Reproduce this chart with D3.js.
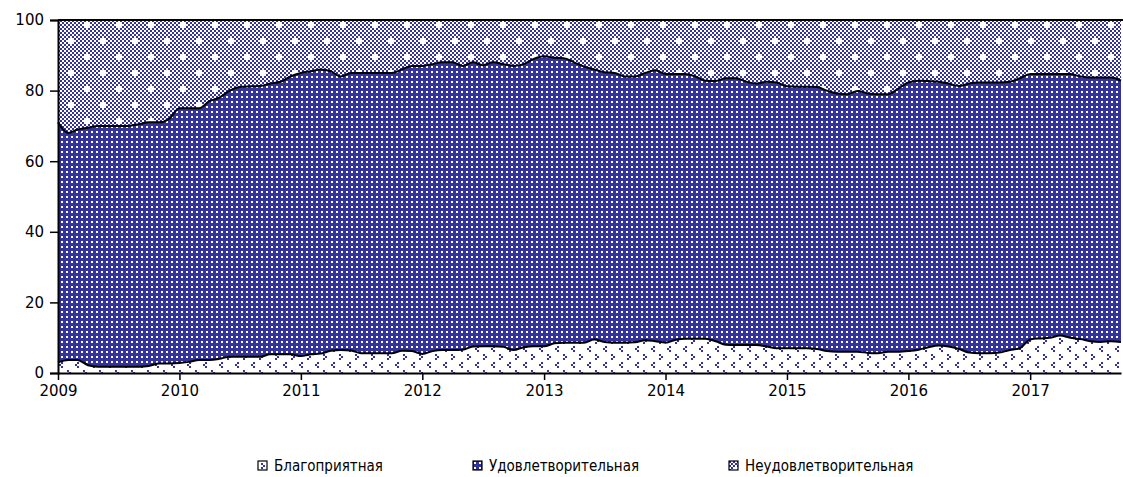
<!DOCTYPE html>
<html>
<head>
<meta charset="utf-8">
<script src="https://cdn.jsdelivr.net/npm/d3@7"></script>
<style>
body { margin: 0; background: #fff; }
svg { display: block; font-family: "DejaVu Sans", sans-serif; }
</style>
</head>
<body>
<script>
// series names (legend order)
var seriesNames = ['Благоприятная', 'Удовлетворительная', 'Неудовлетворительная'];

// monthly, Jan 2009 .. Oct 2017
var months = d3.timeMonth.range(new Date(2009, 0, 1), new Date(2017, 10, 1));

var yTicks = [0, 20, 40, 60, 80, 100];
var yearTicks = [2009, 2010, 2011, 2012, 2013, 2014, 2015, 2016, 2017];

var favourable = [
  3, 3.7, 3.7, 2.2, 1.8, 1.8, 1.8, 1.8, 1.8, 2, 2.7, 2.7,
  2.8, 3.2, 3.7, 3.7, 4, 4.6, 4.6, 4.6, 4.6, 5.3, 5.3, 5.3,
  4.8, 5.3, 5.5, 6.3, 6.5, 6.4, 5.6, 5.6, 5.6, 5.6, 6.3, 6.2,
  5.4, 6.2, 6.5, 6.5, 6.6, 7.5, 7.6, 7.6, 7.4, 6.5, 7.3, 7.6,
  7.6, 8.4, 8.6, 8.6, 8.6, 9.5, 8.8, 8.6, 8.6, 8.7, 9.3, 9,
  8.6, 9.4, 9.7, 9.7, 9.7, 9, 8, 7.9, 7.9, 7.9, 7.5, 7,
  7, 7, 7, 6.8, 6.2, 6, 6, 6, 5.7, 5.6, 6, 6,
  6.2, 6.6, 7.3, 7.8, 7.5, 6.8, 5.8, 5.6, 5.6, 5.8, 6.5, 7,
  9.5, 9.8, 10, 10.6, 10, 9.6, 9, 8.8, 9, 8.8
];
var satisfactory = [
  68, 64.3, 65.3, 67.3, 68.2, 68.2, 68.2, 68.2, 68.7, 69, 68.3, 69.3,
  72.2, 71.8, 71.3, 73.3, 74, 75.4, 76.4, 76.6, 76.7, 76.7, 77.2, 78.7,
  80.2, 80.2, 80.5, 79.2, 77.5, 78.6, 79.4, 79.4, 79.4, 79.4, 79.7, 80.8,
  81.6, 81.3, 81.5, 81.5, 80.4, 80.5, 79.6, 80.4, 80.1, 80.5, 80.2, 81.4,
  82.1, 80.9, 80.6, 79.4, 78.2, 76.5, 76.4, 76.4, 75.4, 75.3, 75.7, 76.8,
  76.1, 75.3, 75, 74.3, 73.1, 73.7, 75.5, 75.6, 74.6, 74.1, 75, 75.3,
  74.2, 74.1, 74.1, 74.2, 73.8, 73.2, 73, 73.9, 73.5, 73.4, 73, 74.5,
  76.1, 76.2, 75.4, 74.7, 74.5, 74.5, 76.2, 76.7, 76.7, 76.5, 76, 76.5,
  75.2, 74.9, 74.7, 74.1, 74.7, 74.4, 74.7, 74.9, 74.7, 74
];
var unsatisfactory = [
  29, 32, 31, 30.5, 30, 30, 30, 30, 29.5, 29, 29, 28,
  25, 25, 25, 23, 22, 20, 19, 18.8, 18.7, 18, 17.5, 16,
  15, 14.5, 14, 14.5, 16, 15, 15, 15, 15, 15, 14, 13,
  13, 12.5, 12, 12, 13, 12, 12.8, 12, 12.5, 13, 12.5, 11,
  10.3, 10.7, 10.8, 12, 13.2, 14, 14.8, 15, 16, 16, 15, 14.2,
  15.3, 15.3, 15.3, 16, 17.2, 17.3, 16.5, 16.5, 17.5, 18, 17.5, 17.7,
  18.8, 18.9, 18.9, 19, 20, 20.8, 21, 20.1, 20.8, 21, 21, 19.5,
  17.7, 17.2, 17.3, 17.5, 18, 18.7, 18, 17.7, 17.7, 17.7, 17.5, 16.5,
  15.3, 15.3, 15.3, 15.3, 15.3, 16, 16.3, 16.3, 16.3, 17.2
];

var W = 1123, H = 477;
var plotL = 58, plotR = 1121, plotT = 20, plotB = 373;
var navy = '#333399';

var svg = d3.select('body').append('svg').attr('width', W).attr('height', H);
var defs = svg.append('defs');

// pattern: favourable - white with small chevrons
var p1 = defs.append('pattern').attr('id', 'pFav').attr('patternUnits', 'userSpaceOnUse')
  .attr('width', 16).attr('height', 16);
p1.append('rect').attr('width', 16).attr('height', 16).attr('fill', '#fff');
[[3, 2], [5, 4], [3, 6], [13, 10], [11, 12], [13, 14]].forEach(function(p) {
  p1.append('rect').attr('x', p[0]).attr('y', p[1]).attr('width', 2).attr('height', 2).attr('fill', navy);
});

// pattern: satisfactory - navy with white dots
var p2 = defs.append('pattern').attr('id', 'pSat').attr('patternUnits', 'userSpaceOnUse')
  .attr('width', 5).attr('height', 5);
p2.append('rect').attr('width', 5).attr('height', 5).attr('fill', navy);
p2.append('rect').attr('x', 1).attr('y', 1).attr('width', 2).attr('height', 2).attr('fill', '#fff');

// pattern: unsatisfactory - fine checker with small white crosses
var c = 2, n = 16;
var p3 = defs.append('pattern').attr('id', 'pUns').attr('patternUnits', 'userSpaceOnUse')
  .attr('width', c * n).attr('height', c * n);
p3.append('rect').attr('width', c * n).attr('height', c * n).attr('fill', '#fff');
var crossCells = {};
[[3, 4], [11, 12]].forEach(function(k) {
  [[0, 0], [1, 0], [-1, 0], [0, 1], [0, -1]].forEach(function(d) {
    crossCells[(k[0] + d[0]) + ',' + (k[1] + d[1])] = true;
  });
});
for (var i = 0; i < n; i++) {
  for (var j = 0; j < n; j++) {
    if ((i + j) % 2 === 0 && !crossCells[i + ',' + j]) {
      p3.append('rect').attr('x', i * c).attr('y', j * c).attr('width', c).attr('height', c).attr('fill', navy);
    }
  }
}

var fills = ['url(#pFav)', 'url(#pSat)', 'url(#pUns)'];

var table = months.map(function(m, i) {
  return { date: m, s0: favourable[i], s1: satisfactory[i], s2: unsatisfactory[i] };
});

var x = d3.scaleTime().domain([months[0], months[months.length - 1]]).range([plotL, plotR]);
var y = d3.scaleLinear().domain([0, 100]).range([plotB, plotT]);

var stack = d3.stack().keys(['s0', 's1', 's2']);
var layers = stack(table);

var area = d3.area()
  .curve(d3.curveMonotoneX)
  .x(function(d) { return x(d.data.date); })
  .y0(function(d) { return y(d[0]); })
  .y1(function(d) { return y(d[1]); });

svg.selectAll('path.layer')
  .data(layers)
  .enter()
    .append('path')
    .attr('class', 'layer')
    .attr('d', area)
    .attr('fill', function(d, i) { return fills[i]; });

var line = d3.line()
  .curve(d3.curveMonotoneX)
  .x(function(d) { return x(d.data.date); })
  .y(function(d) { return y(d[1]); });

svg.selectAll('path.edge')
  .data(layers.slice(0, 2))
  .enter()
    .append('path')
    .attr('class', 'edge')
    .attr('d', line)
    .attr('fill', 'none')
    .attr('stroke', '#000')
    .attr('stroke-width', 2);

// top frame line
svg.append('line').attr('x1', plotL).attr('x2', plotR + 2).attr('y1', plotT).attr('y2', plotT)
  .attr('stroke', '#000').attr('stroke-width', 2);

// axes
var yAxis = d3.axisLeft(y).tickValues(yTicks).tickSize(8).tickPadding(6);
var gy = svg.append('g').attr('transform', 'translate(' + plotL + ',0)').call(yAxis);
gy.select('.domain').attr('stroke-width', 2);
gy.selectAll('.tick line').attr('stroke-width', 1.5);
gy.selectAll('text').attr('font-size', 15).attr('font-family', '"DejaVu Sans", sans-serif').attr('fill', '#000');

var xAxis = d3.axisBottom(x)
  .tickValues(yearTicks.map(function(yr) { return new Date(yr, 0, 1); }))
  .tickFormat(d3.timeFormat('%Y'))
  .tickSize(7).tickSizeOuter(0).tickPadding(5);
var gx = svg.append('g').attr('transform', 'translate(0,' + plotB + ')').call(xAxis);
gx.select('.domain').attr('stroke-width', 2);
gx.selectAll('.tick line').attr('stroke-width', 1.5);
gx.selectAll('text').attr('font-size', 15).attr('font-family', '"DejaVu Sans", sans-serif').attr('fill', '#000');

// legend
var legendX = [258, 473, 729];
var lg = svg.selectAll('g.legend')
  .data(seriesNames)
  .enter()
    .append('g')
    .attr('class', 'legend')
    .attr('transform', function(d, i) { return 'translate(' + legendX[i] + ',461)'; });
lg.append('rect').attr('width', 9).attr('height', 9)
  .attr('fill', function(d, i) { return fills[i]; })
  .attr('stroke', '#000').attr('stroke-width', 1.2);
lg.append('text').attr('x', 16).attr('y', 10)
  .attr('font-size', 15)
  .attr('font-family', '"DejaVu Sans Condensed", "DejaVu Sans", sans-serif')
  .attr('fill', '#000')
  .text(function(d) { return d; });
</script>
</body>
</html>
